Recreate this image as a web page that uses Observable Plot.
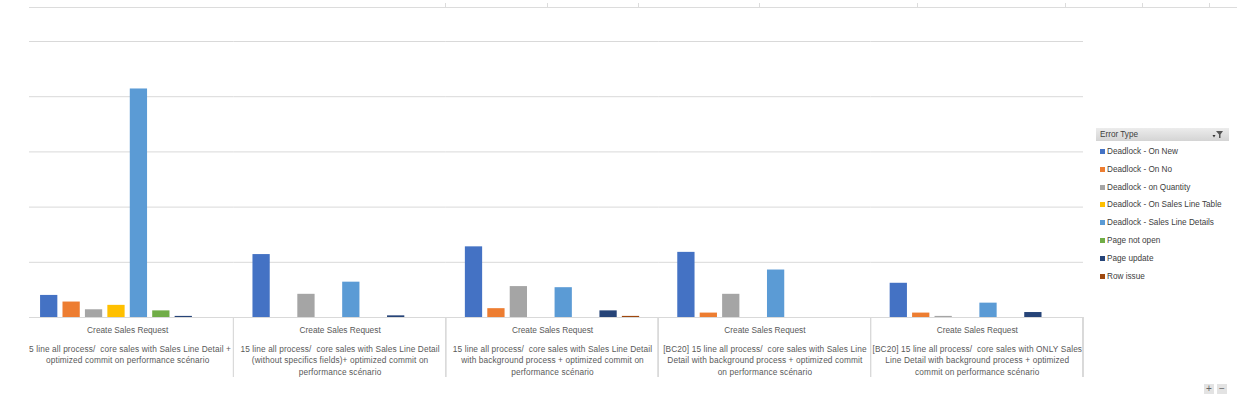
<!DOCTYPE html>
<html>
<head>
<meta charset="utf-8">
<script src="https://cdn.jsdelivr.net/npm/d3@7"></script>
<script src="https://cdn.jsdelivr.net/npm/@observablehq/plot@0.6"></script>
<style>
  html, body { margin: 0; padding: 0; background: #fff; }
  #root { position: relative; width: 1237px; height: 395px; overflow: hidden; font-family: "Liberation Sans", Arial, sans-serif; }
  #clip { position: absolute; left: 29px; top: 0; width: 1208px; height: 395px; overflow: hidden; }
  #clip svg { position: absolute; left: -29px; top: 0; }
  #sheetline { position: absolute; left: 29px; top: 7px; width: 1208px; height: 0; border-top: 1px solid #dcdcdc; }
  .tick { position: absolute; top: 3px; width: 0; height: 4px; border-left: 1px solid #dcdcdc; }
  #legend { position: absolute; left: 1096px; top: 128px; width: 133px; font-size: 8.2px; color: #404040; }
  #legend .hdr { height: 13px; line-height: 13px; background: linear-gradient(#ececec, #d4d4d4); padding-left: 4px; position: relative; }
  #legend .hdr svg { position: absolute; right: 5px; top: 2px; }
  #legend .item { position: absolute; left: 4px; height: 10px; line-height: 10px; white-space: nowrap; }
  #legend .sw { display: inline-block; width: 5px; height: 5px; margin-right: 2px; vertical-align: 0px; }
  .btn { position: absolute; top: 384px; width: 10px; height: 10px; background: #e3e3e3; color: #666; font-size: 10px; line-height: 10px; text-align: center; }
</style>
</head>
<body>
<div id="root">
  <div id="sheetline"></div>
  <div id="clip"></div>
  <div id="legend"></div>
  <div class="btn" style="left:1204px">+</div>
  <div class="btn" style="left:1217px">−</div>
</div>
<script>
// ---- data ----
const categoryTop = "Create Sales Request";
const categories = [
  "15 line all process/  core sales with Sales Line Detail +\noptimized commit on performance scénario",
  "15 line all process/  core sales with Sales Line Detail\n(without specifics fields)+ optimized commit on\nperformance scénario",
  "15 line all process/  core sales with Sales Line Detail\nwith background process + optimized commit on\nperformance scénario",
  "[BC20] 15 line all process/  core sales with Sales Line\nDetail with background process + optimized commit\non performance scénario",
  "[BC20] 15 line all process/  core sales with ONLY Sales\nLine Detail with background process + optimized\ncommit on performance scénario"
];
const seriesNames = [
  "Deadlock - On New",
  "Deadlock - On No",
  "Deadlock - on Quantity",
  "Deadlock - On Sales Line Table",
  "Deadlock - Sales Line Details",
  "Page not open",
  "Page update",
  "Row issue"
];
const seriesColors = ["#4472C4", "#ED7D31", "#A5A5A5", "#FFC000", "#5B9BD5", "#70AD47", "#264478", "#9E480E"];
const deadlockOnNew        = [20, 57, 64, 59, 31];
const deadlockOnNo         = [14, null, 8, 4, 4];
const deadlockOnQuantity   = [7, 21, 28, 21, 1];
const deadlockOnSalesLineTable = [11, null, null, null, null];
const deadlockSalesLineDetails = [207, 32, 27, 43, 13];
const pageNotOpen          = [6, null, null, null, null];
const pageUpdate           = [1, 1.5, 6, null, 4.5];
const rowIssue             = [null, null, 1, null, null];
const gridTicks = [50, 100, 150, 200, 250];

const seriesValues = [deadlockOnNew, deadlockOnNo, deadlockOnQuantity, deadlockOnSalesLineTable,
  deadlockSalesLineDetails, pageNotOpen, pageUpdate, rowIssue];

const rows = [];
categories.forEach((c, i) => seriesNames.forEach((s, j) => {
  const v = seriesValues[j][i];
  if (v != null) rows.push({category: c, series: s, value: v});
}));

// separators between categories (drawn from the library's fx / y scales)
function separators(index, scales, values, dims) {
  const fx = scales.fx, y = scales.y;
  const g = d3.create("svg:g");
  if (!fx || !y) return g.node();
  const xs = new Set();
  for (const k of fx.domain()) { xs.add(fx(k)); xs.add(fx(k) + fx.bandwidth()); }
  for (const xx of xs) {
    g.append("line").attr("x1", xx).attr("x2", xx)
      .attr("y1", y(0)).attr("y2", dims.height - 18)
      .attr("stroke", "#d9d9d9").attr("stroke-width", 1);
  }
  return g.node();
}

const chart = Plot.plot({
  width: 1090,
  height: 395,
  marginLeft: 21,
  marginRight: 7,
  marginTop: 41,
  marginBottom: 78,
  style: {background: "transparent", fontFamily: "Liberation Sans, Arial, sans-serif", overflow: "visible"},
  fx: {domain: categories, padding: 0, round: false, axis: null},
  x: {domain: seriesNames, paddingInner: 0.23, paddingOuter: 0.85, round: false, axis: null},
  y: {domain: [0, 250], axis: null},
  color: {domain: seriesNames, range: seriesColors},
  marks: [
    Plot.ruleY(gridTicks, {stroke: "#d9d9d9", strokeWidth: 1}),
    Plot.ruleY([0], {stroke: "#d9d9d9", strokeWidth: 1}),
    Plot.barY(rows, {fx: "category", x: "series", y: "value", fill: "series"}),
    Plot.text(categories, {fx: d => d, frameAnchor: "bottom", text: () => categoryTop, dy: 13,
      lineAnchor: "middle", fontSize: 8.3, fill: "#595959", className: "toplabel"}),
    Plot.text(categories, {fx: d => d, frameAnchor: "bottom", text: d => d, dy: 26,
      lineAnchor: "top", lineHeight: 1.38, fontSize: 8.3, fill: "#595959", className: "desclabel"}),
    separators
  ]
});
document.getElementById("clip").appendChild(chart);
chart.querySelectorAll(".desclabel text, g.desclabel").forEach(t => t.style.letterSpacing = "0.12px");

// spreadsheet column border ticks (chrome)
const colBorders = [445, 547, 638, 759, 917, 1065, 1142, 1209];
const root = document.getElementById("root");
colBorders.forEach(x => {
  const t = document.createElement("div");
  t.className = "tick"; t.style.left = x + "px"; root.appendChild(t);
});

// legend
const legend = d3.select("#legend");
const hdr = legend.append("div").attr("class", "hdr").text("Error Type");
hdr.append("svg").attr("width", 12).attr("height", 9).html(
  '<path d="M4 1 H11 L8.5 4.5 V8 H7 V4.5 Z" fill="#555"/><path d="M0.5 5 H3.5 L2 7.5 Z" fill="#333"/>');
seriesNames.forEach((s, i) => {
  const it = legend.append("div").attr("class", "item").style("top", (19 + i * 17.8) + "px");
  it.append("span").attr("class", "sw").style("background", seriesColors[i]);
  it.append("span").text(s);
});
</script>
</body>
</html>
